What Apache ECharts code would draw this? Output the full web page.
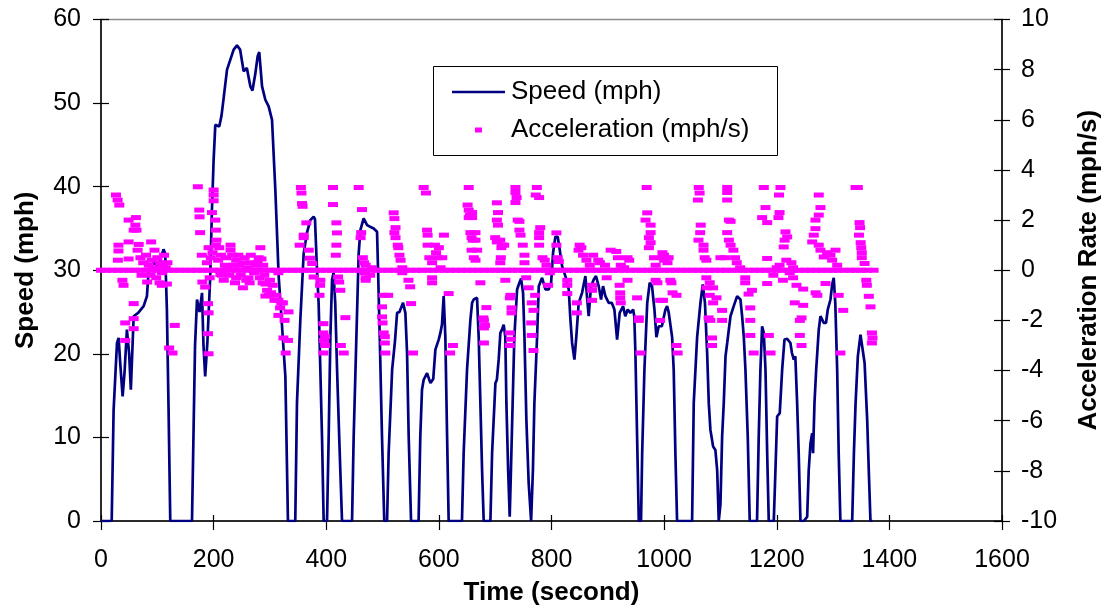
<!DOCTYPE html>
<html>
<head>
<meta charset="utf-8">
<script src="https://cdn.jsdelivr.net/npm/echarts@6/dist/echarts.min.js"></script>
<style>
html,body{margin:0;padding:0;background:#fff;}
#chart{width:1106px;height:613px;}
</style>
</head>
<body>
<div id="chart"></div>
<script>
// ---- DATA ----
var speedPoints = [
[0,0],[19,0],[22.4,13.3],[25.4,17.3],[28.4,21.3],[31.3,21.9],[34,19],[38.4,14.9],[42,18],[46,22.9],[50,20],[53,15.7],[58,24.5],[66,24.9],[75.7,25.7],[81.6,26.9],[84.6,30],[93.5,30.9],[102,30.5],[111,32.5],[114,32],[117,25.3],[120,13.3],[123,0],
[161.6,0],[164.5,11.3],[167,21],[170.5,26.5],[175,25],[179.4,27.3],[182,21],[185,17.3],[189,21.5],[194,29.3],[197,37.2],[200,43.2],[203,47.4],[210,47.2],[214,48.5],[217.8,50.6],[223.8,54],[229.7,55.2],[235.6,56.4],[241.5,56.9],[247,56.4],[253.3,53.8],[259,54.2],[265.2,52],[269,51.5],[274,53.5],[278.2,55.6],[281,56.1],[286,52],[291.8,50.4],[297.7,49.6],[303.7,48],[309.6,39.6],[315.5,29.3],[321.5,23.3],[327.4,17.3],[332,0],
[345,0],[348,14.1],[354,24.1],[359.9,32],[365.8,34.5],[371.7,36],[377.6,36.4],[380,36.1],[383.6,30],[386.5,26],[389.5,18.1],[392.5,10],[395.4,0],
[401.4,0],[404.3,10.1],[407.3,22],[410.3,28.9],[413,29.7],[416,26],[419.2,18.1],[423.5,9],[428,0],
[445.8,0],[448.7,10.1],[453.5,22],[457.6,32],[460.6,34.8],[466.4,36.2],[472.5,35.4],[478,35.2],[484.2,35],[490.2,34.6],[492,30],[495,22],[499,10.1],[503,0],
[508,0],[510.8,8.1],[517,18.1],[522,21.5],[525.8,24.9],[530,25],[536.4,26.1],[540.5,24.9],[543.5,20.1],[546.4,10.1],[550.6,0],
[564,0],[567,10.1],[570,15.7],[573,16.9],[579,17.7],[585,16.5],[590,17],[593.8,20.5],[599.7,21.7],[602.7,22.5],[605.5,23.5],[608.5,26.9],[611.5,22],[614.6,10.1],[617.4,0],
[641,0],[644,8.1],[650,18.1],[656,24.1],[659,26.1],[661.8,26.5],[667.8,26.7],[670.7,22],[673.7,14.1],[676.7,6.1],[679.6,0],
[691.5,0],[694.5,8.1],[700.4,16.5],[703,16.9],[706.2,19.3],[709.2,22.5],[712,22.9],[715.1,23.5],[718,22],[719.9,14.1],[723,6.1],[725.8,0.5],[728,6.1],[731,14.1],[734,22],[738.9,27.7],[743,28.5],[746,29],[749.5,27.3],[752,22],[755.4,12.1],[759.5,4.5],[763.8,0],
[767,6.1],[769.6,14.1],[774.4,22],[777.4,28.1],[783.3,29.1],[789.2,27.7],[795,27.7],[799.3,28.5],[802.8,32.1],[806.9,34],[811,34],[814.5,32.5],[818.8,30.5],[824.7,29.3],[830.6,27.7],[833.6,24.1],[836.6,21.3],[840.7,19.3],[844,22],[848.3,26.1],[854.3,27.3],[860.2,29.3],[863,26.9],[866,24.5],[870,28],[875,28.9],[879,29.3],[883.8,28.1],[888,26.5],[891.5,28.1],[895.7,26.9],[901.6,26.1],[907,26.1],[911.7,25.3],[916.5,21.7],[921.1,24.9],[927.2,25.7],[931,24.5],[935.4,25.3],[940,24.9],[945,25.3],[947,24.5],[949,20.1],[952,10.1],[955,0],
[959,0],[961,8.1],[965,18.1],[970,26.1],[974.4,28.5],[978.5,28.1],[982.8,25.3],[986.3,22],[990.4,23.3],[996,23.3],[1002.3,25.3],[1005.3,25.7],[1008,25],[1014.2,22],[1017,18.1],[1020,8.1],[1023,0],
[1049.7,0],[1052.6,14.1],[1058.6,22],[1064.5,26.1],[1068.6,28.3],[1072.5,26.1],[1076.4,20.1],[1079.3,14.1],[1082.2,10.9],[1087,8.9],[1091,8.5],[1094.2,6.1],[1097,0],[1100,2],[1103,10.1],[1105.9,14.1],[1109,19.7],[1112,21.3],[1117.8,24.5],[1123.6,25.7],[1129.6,26.9],[1132.5,27],[1135.5,26.5],[1138.5,24.5],[1141.5,22],[1144.4,18.1],[1148.5,10.1],[1152,0],
[1165,0],[1168,10.1],[1171,18.1],[1174,23.3],[1177,22.5],[1180,18.1],[1183,8.1],[1185.8,0],
[1194.7,0],[1197.7,6.1],[1200.7,12.5],[1205.3,12.9],[1209.6,18.1],[1213.7,21.7],[1218.5,21.8],[1224.3,21.3],[1227,20.1],[1230.2,19.3],[1233,19.7],[1236.2,14.1],[1239,8.1],[1242.1,0],
[1248,0],[1254,0.5],[1256.8,6.1],[1259.9,9.3],[1262.9,10.5],[1264.5,8.1],[1267,14.1],[1270,18.1],[1274.6,22.9],[1277.6,24.5],[1280.5,24.7],[1283.5,23.7],[1287.5,23.7],[1290.6,25.3],[1295.4,26.5],[1298.4,28.3],[1301.2,29.1],[1304,26],[1307.3,18.1],[1310,8.1],[1313,0],
[1334,0],[1337,8.1],[1340,14.1],[1344,19.7],[1348.7,22.3],[1351.5,22.1],[1356,18.9],[1360.6,12.1],[1363.4,6.1],[1366.4,0],[1370,0]
];

var accelPoints = [
[26.6,3.0],[29.5,2.8],[32.5,2.6],[49,2.0],[62,2.1],[61,1.8],[58,1.6],[63,1.6],[49,1.13],[67,1.03],[89,1.13],[31,1.0],[31,0.77],[30,0.4],[49,0.45],
[70,0.5],[75,0.3],[80,0.6],[85,0.2],[90,0.4],[95,0.1],[100,0.5],[105,0.3],[110,0.2],[112,0.6],[115,0.1],[72,-0.2],[88,-0.2],[98,-0.3],[108,-0.1],[65,0.8],[95,0.8],[118,0.3],
[38,-0.4],[40,-0.6],[82,-0.47],[104,-0.5],[108,-0.6],[117,-0.55],[58,-1.33],[43,-2.1],[58,-1.93],[58,-2.33],[43,-2.8],[131,-2.2],[121,-3.1],[127,-3.3],
[172,3.33],[174.5,2.4],[175,2.13],[200,3.2],[200,3.0],[200,2.77],[197,2.3],[203,2.0],[176,1.5],[204,1.6],[205,1.2],[204,1.0],[191,0.9],[179,0.6],[195,0.5],[210,0.9],[230,1.0],[230,0.8],[233,0.6],[283,0.9],[280,0.5],[268,0.3],[252,0.3],[240,0.4],
[212,-0.17],[215,-0.2],[240,-0.3],[258,-0.4],[264,-0.5],[252,-0.7],[287,-0.5],[292,-0.55],[292,-1.03],[298,-1.0],[311,-1.0],[315,-1.2],[320,-1.3],[315,-1.8],[333,-1.66],
[180,-0.47],[185,-0.67],[190,-1.33],[191,-1.7],[190,-2.53],[191,-3.33],[324,-2.7],[332,-2.8],[328,-3.3],[315,-0.1],
[220,0.2],[225,0.1],[245,0.2],[260,0.1],[275,0.2],[290,-0.2],[300,-0.4],[305,-0.6],[285,0.45],
[188,0.3],[193,-0.3],[198,0.7],[208,0.4],[213,0.6],[218,-0.4],[222,0.5],[228,-0.2],[235,0.2],[238,-0.5],[244,0.6],[248,-0.2],[255,0.5],[262,-0.3],[266,0.6],[272,-0.1],[278,0.3],[282,-0.3],[288,0.2],[295,-0.8],[302,-0.9],[308,-1.2],[318,-1.5],[323,-1.3],[326,-2.0],
[355,3.3],[356,3.08],[357,2.66],[358,2.55],[364.6,1.89],[360,1.4],[360,1.3],[352.8,1.0],[369,0.8],[371,0.48],[375,0.27],[377.6,-0.27],[389.5,-0.4],[389,-0.6],[388,-1.0],[395,-2.13],[395,-2.5],[398,-2.65],[396,-2.8],[398,-3.0],[395,-3.3],
[412,3.3],[412,2.62],[418,1.89],[419,1.49],[418,1.0],[417,0.6],[421,-0.27],[423,-0.47],[425,-0.8],[434,-1.89],[426,-3.0],[431,-3.3],
[457.6,3.3],[463.5,2.42],[462,1.5],[461,1.3],[465,0.5],[467,0.3],[470,0.2],[468,-0.1],[470,-0.3],[478,-0.2],[481,0.1],[470,-0.4],
[502,-1.0],[510,-1.0],[499,-1.46],[499,-1.86],[500,-2.1],[502,-2.5],[504,-2.65],[504,-2.9],[505,-3.3],
[519.7,2.29],[521,2.06],[523,1.7],[521,1.5],[523,1.3],[527,1.0],[528,0.9],[530,0.6],[532,0.4],[535,0.1],[535,-0.1],[546,-0.4],[549,-0.66],[550.6,-1.33],[554,-3.3],
[573,3.3],[577,3.08],[579,1.6],[580,1.4],[580,1.0],[583,0.5],[588,0.3],[593,1.0],[600,0.9],[595,0.7],[598,0.5],[603,0.1],[609,1.4],[606,0.5],[588,-0.3],[588,-0.5],[617.4,-0.93],[625,-3.0],[620,-3.3],
[653,3.3],[651,2.6],[653,2.4],[655,2.2],[653,2.1],[656,1.5],[658,1.3],[660,1.2],[658,0.8],[662,0.5],
[659,2.3],[659,2.1],[665,1.5],[665,1.2],[668,0.8],[665,0.4],[673.7,-0.5],[684.4,-1.49],[679,-1.9],[680,-2.0],[682,-2.2],[680,-2.3],[680,-2.9],
[736,3.3],[736,3.1],[738,2.9],[736,2.7],[703,2.69],[705,2.3],[703,2.0],[705,1.8],[700,1.3],[709,1.2],[703,1.13],[712,1.0],[716,1.0],[711,0.9],[710,0.5],[709,0.3],[718,-0.4],[727,-1.0],[726,-1.1],[729,-1.5],[729,-1.7],[726,-2.5],[728,-2.75],[726,-3.0],
[774,3.3],[772,3.0],[778,2.9],[740,2.0],[743,1.95],[743,1.6],[745,1.4],[749,1.0],[752,0.6],[752,0.3],[755,-0.3],[759.5,-0.7],[771,-1.0],[765,-1.3],[768,-1.6],[764,-2.1],[765,-2.6],[768,-3.2],
[780,1.7],[778,1.5],[778,1.3],[778,1.0],[784,0.5],[788,0.4],[791,0.2],[797,-0.1],[794,-0.6],
[808.7,1.49],[808.7,1.0],[811,0.5],[813,0.35],[828,-0.4],[828,-0.6],[828,-0.93],[845,-1.3],[845,-1.7],
[850,1.0],[853,0.9],[848,0.8],[856,0.6],[862,0.4],[868,0.2],[874,0.6],[883,0.4],[886,0.3],[895,0.2],[898,-0.3],[872,-0.6],[872,-0.8],[872,-1.2],
[905,0.8],[915,0.75],[918,0.5],[935,0.5],[938,0.4],[923,0.2],[929,0.1],[935,-0.4],[921,-0.6],[922,-0.9],[922,-1.1],[923,-1.3],[955,-1.9],[955,-2.0],[952,-1.1],[958,-3.3],
[969,3.3],[970,2.29],[967,2.0],[976,1.8],[976,1.5],[973,1.3],[976,1.1],[973,0.9],[982,0.5],[985,0.2],[985,-0.4],[988,-0.5],[993,-1.2],[993,-2.0],[997,0.7],[1003,0.5],[1006,0.3],[1000,0.4],
[1000,0.6],[1008,0.5],[998,0.5],[1011,-0.4],[1013,-0.5],[1015,-0.9],[1022,-1.0],[998,-1.2],[1022,-3.0],[1024,-3.3],
[1061.5,3.3],[1063,3.08],[1060,2.8],[1065,1.8],[1064,1.5],[1061,1.2],[1070,1.0],[1070,0.8],[1072,0.5],[1075,0.4],[1075,-0.3],[1081,-0.5],[1075,-0.7],[1087,-0.7],[1081,-1.0],[1093,-1.1],[1087,-1.3],[1079,-1.9],[1082,-2.0],[1085,-2.7],[1085,-3.0],
[1112,3.3],[1112,3.1],[1112,2.8],[1115,2.0],[1118,1.95],[1112,1.5],[1115,1.2],[1118,1.0],[1123,0.8],[1126,0.5],[1129,0.3],[1135,0.1],[1108,0.5],[1100,0.5],[1144,-0.3],[1144,-0.5],[1150,-0.95],[1153,-1.5],[1153,-2.0],[1153,-2.6],[1159,-3.3],[1156,-0.8],[1103,-1.6],[1103,-2.0],
[1177,3.3],[1180,2.5],[1174,2.1],[1183,1.9],[1183,0.47],[1183,-0.53],[1186,-2.6],[1189,-3.3],
[1206.6,3.3],[1204,3.0],[1205,2.3],[1203,2.1],[1215.5,1.53],[1218.5,1.33],[1214,1.2],[1212.4,0.93],[1217,0.4],[1226,0.3],[1229,0.1],[1205,0.2],[1200,0.1],[1194,-0.2],[1211,-0.4],[1223,-0.1],[1229,-0.3],[1235,-0.6],[1247,-0.75],[1232,-1.3],[1247,-1.4],[1241,-2.0],[1244,-1.9],[1241,-2.6],[1244,-3.0],
[1274.6,3.0],[1277.6,2.5],[1274.6,2.2],[1268.7,2.0],[1268.7,1.66],[1265.7,1.4],[1263,1.13],[1274.6,1.0],[1277.6,0.8],[1289.5,0.7],[1283.5,0.53],[1295.4,0.6],[1304.3,0.8],[1298.4,0.4],[1307.3,0.2],
[1286.6,-0.53],[1272,-1.0],[1269,-0.9],[1310,-1.0],[1318,-1.6],[1313,-3.3],[1340,3.3],
[1344,3.3],[1347,1.9],[1348,1.7],[1346,1.4],[1349,1.1],[1350,0.9],[1351,0.7],[1351,0.5],[1356,0.27],[1359,-0.4],[1360,-0.6],[1363.5,-1.04],[1366.5,-1.46],[1369,-2.5],[1370,-2.7],[1369,-2.9]
];

// times (s) where the acceleration sits on the 0 line (continuous band in the picture)
var accelZeroTimes = [0,10,20,30,40,50,60,70,80,90,100,110,120,130,140,150,160,170,180,190,200,210,220,230,240,250,260,270,280,290,300,310,320,330,340,350,360,370,380,390,400,410,420,430,440,450,460,470,480,490,500,510,520,530,540,550,560,570,580,590,600,610,620,630,640,650,660,670,680,690,700,710,720,730,740,750,760,770,780,790,800,810,820,830,840,850,860,870,880,890,900,910,920,930,940,950,960,970,980,990,1000,1010,1020,1030,1040,1050,1060,1070,1080,1090,1100,1110,1120,1130,1140,1150,1160,1170,1180,1190,1200,1210,1220,1230,1240,1250,1260,1270,1280,1290,1300,1310,1320,1330,1340,1350,1360,1372];

var seriesNames = ['Speed (mph)', 'Acceleration (mph/s)'];
var axisNames = {x: 'Time (second)', yLeft: 'Speed (mph)', yRight: 'Acceleration Rate (mph/s)'};
var xRange = [0, 1600, 200];
var speedRange = [0, 60, 10];
var accelRange = [-10, 10, 2];

// ---- CHART ----
var accelData = accelPoints.concat(accelZeroTimes.map(function (t) { return [t, 0]; }));
var FONT = '"Liberation Sans", Arial, sans-serif';
var chart = echarts.init(document.getElementById('chart'), null, {renderer: 'canvas'});

var lineC = '#000000';
var tickLbl = {fontSize: 25, color: '#000', fontFamily: FONT, formatter: function (v) { return String(v); }};
var nameStyle = {fontSize: 26, fontWeight: 'bold', color: '#000', fontFamily: FONT};
var gridBox = {left: 101, right: 104, top: 19.5, bottom: 92, containLabel: false, outerBoundsMode: 'none'};
function noAxisParts() { return {axisLine: {show: false}, axisLabel: {show: false}, splitLine: {show: false}}; }

chart.setOption({
  animation: false,
  backgroundColor: '#fff',
  grid: [
    Object.assign({show: true, borderColor: '#8c8c8c', borderWidth: 1.5, backgroundColor: 'transparent'}, gridBox),
    Object.assign({show: false}, gridBox)
  ],
  xAxis: [
    {gridIndex: 0, type: 'value', min: xRange[0], max: xRange[1], interval: xRange[2], position: 'bottom',
     axisLine: {show: true, onZero: false, lineStyle: {color: lineC, width: 1.5}},
     axisTick: {show: true, inside: false, length: 9, lineStyle: {color: lineC, width: 1.2}},
     axisLabel: Object.assign({margin: 27}, tickLbl),
     splitLine: {show: false},
     name: axisNames.x, nameLocation: 'middle', nameGap: 59, nameTextStyle: nameStyle},
    Object.assign({gridIndex: 1, type: 'value', min: xRange[0], max: xRange[1], interval: xRange[2], position: 'bottom',
     axisTick: {show: true, inside: true, length: 6, lineStyle: {color: lineC, width: 1.2}}}, noAxisParts())
  ],
  yAxis: [
    {gridIndex: 0, type: 'value', min: speedRange[0], max: speedRange[1], interval: speedRange[2], position: 'left',
     axisLine: {show: true, onZero: false, lineStyle: {color: lineC, width: 1.5}},
     axisTick: {show: true, inside: false, length: 8, lineStyle: {color: lineC, width: 1.2}},
     axisLabel: Object.assign({margin: 20}, tickLbl),
     splitLine: {show: false},
     name: axisNames.yLeft, nameLocation: 'middle', nameRotate: 90, nameGap: 62, nameTextStyle: nameStyle},
    {gridIndex: 0, type: 'value', min: accelRange[0], max: accelRange[1], interval: accelRange[2], position: 'right',
     axisLine: {show: true, onZero: false, lineStyle: {color: lineC, width: 1.5}},
     axisTick: {show: true, inside: false, length: 8, lineStyle: {color: lineC, width: 1.2}},
     axisLabel: Object.assign({margin: 19}, tickLbl),
     splitLine: {show: false},
     name: axisNames.yRight, nameLocation: 'middle', nameRotate: 90, nameGap: 74, nameTextStyle: nameStyle},
    Object.assign({gridIndex: 1, type: 'value', min: speedRange[0], max: speedRange[1], interval: speedRange[2], position: 'left',
     axisTick: {show: true, inside: true, length: 8, lineStyle: {color: lineC, width: 1.2}}}, noAxisParts()),
    Object.assign({gridIndex: 1, type: 'value', min: accelRange[0], max: accelRange[1], interval: accelRange[2], position: 'right',
     axisTick: {show: true, inside: true, length: 8, lineStyle: {color: lineC, width: 1.2}}}, noAxisParts())
  ],
  legend: [
    {data: [{name: seriesNames[0], icon: 'path://M0,0H53V2.7H0Z'}], left: 452, top: 79, padding: 0,
     itemWidth: 53, itemHeight: 14, itemGap: 0,
     textStyle: {fontSize: 26, color: '#000', fontFamily: FONT, padding: [0, 0, 0, 1]}},
    {data: [{name: seriesNames[1], icon: 'rect'}], left: 475, top: 117, padding: 0,
     itemWidth: 7, itemHeight: 5, itemGap: 0,
     textStyle: {fontSize: 26, color: '#000', fontFamily: FONT, padding: [0, 0, 0, 24]}}
  ],
  graphic: [
    {type: 'rect', shape: {x: 433.5, y: 66.5, width: 344, height: 89}, style: {fill: '#fff', stroke: '#000', lineWidth: 1}, z: 1}
  ],
  series: [
    {name: seriesNames[0], type: 'line', xAxisIndex: 0, yAxisIndex: 0, data: speedPoints,
     symbol: 'none', smooth: false, lineStyle: {color: '#000080', width: 2.7}, itemStyle: {color: '#000080'}, z: 3},
    {name: seriesNames[1], type: 'scatter', xAxisIndex: 0, yAxisIndex: 1, data: accelData,
     symbol: 'rect', symbolSize: [10, 5], itemStyle: {color: '#FF00FF', opacity: 1}, z: 4}
  ]
});
</script>
</body>
</html>
